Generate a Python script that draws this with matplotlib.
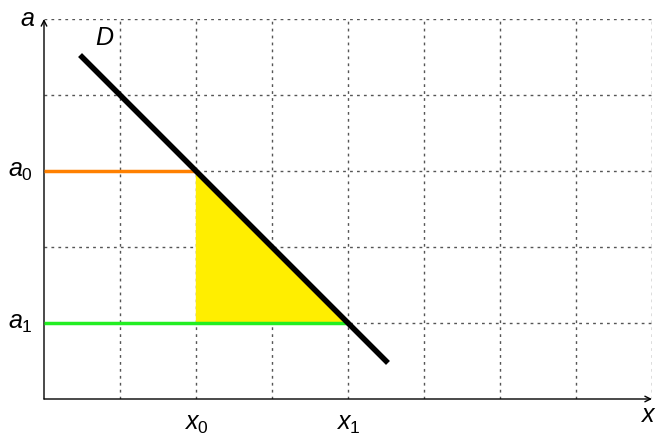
import matplotlib
matplotlib.use("Agg")
import matplotlib.pyplot as plt

plt.rcParams['font.family'] = ['Liberation Sans', 'DejaVu Sans']
plt.rcParams['mathtext.fontset'] = 'custom'
plt.rcParams['mathtext.it'] = 'Liberation Sans:italic'
plt.rcParams['mathtext.rm'] = 'Liberation Sans'

# line D: a = 5 - x, drawn from x=0.5 to x=4.5
d_x = [0.5, 4.5]
d_a = [4.5, 0.5]
x0, x1 = 2, 4
a0, a1 = 3, 1
x_max, a_max = 8, 5

fig = plt.figure(figsize=(6.58, 4.38), dpi=100)
ax = fig.add_axes([44 / 658, 39 / 438, 608 / 658, 380 / 438])
ax.set_xlim(0, x_max)
ax.set_ylim(0, a_max)
for s in ax.spines.values():
    s.set_visible(False)
ax.set_xticks(range(1, x_max + 1))
ax.set_yticks(range(1, a_max + 1))
ax.tick_params(length=0, labelbottom=False, labelleft=False)
ax.grid(True, color='#555555', linestyle=(0, (2, 3)), linewidth=1)

# axes with arrows
ax.annotate('', xy=(x_max, 0), xytext=(0, 0), annotation_clip=False,
            arrowprops=dict(arrowstyle='->', color='black', lw=1, shrinkA=0, shrinkB=0))
ax.annotate('', xy=(0, a_max), xytext=(0, 0), annotation_clip=False,
            arrowprops=dict(arrowstyle='->', color='black', lw=1, shrinkA=0, shrinkB=0))

ax.fill([x0, x0, x1], [a0, a1, a1], color='#ffee00', zorder=2)
ax.plot([0, x0], [a0, a0], color='#ff8000', lw=2.5, zorder=3, solid_capstyle='butt')
ax.plot([0, x1], [a1, a1], color='#22ee22', lw=2.5, zorder=3, solid_capstyle='butt')
ax.plot(d_x, d_a, color='black', lw=4, zorder=4)

fs = 18
ax.text(-0.12, a_max, '$a$', ha='right', va='center', fontsize=fs)
ax.text(x_max + 0.05, -0.05, '$x$', ha='right', va='top', fontsize=fs)
ax.text(0.8, 4.75, '$D$', ha='center', va='center', fontsize=fs)
ax.text(-0.15, a0, '$a_0$', ha='right', va='center', fontsize=fs)
ax.text(-0.15, a1, '$a_1$', ha='right', va='center', fontsize=fs)
ax.text(x0, -0.17, '$x_0$', ha='center', va='top', fontsize=fs)
ax.text(x1, -0.17, '$x_1$', ha='center', va='top', fontsize=fs)

fig.savefig('out.png', dpi=100)
